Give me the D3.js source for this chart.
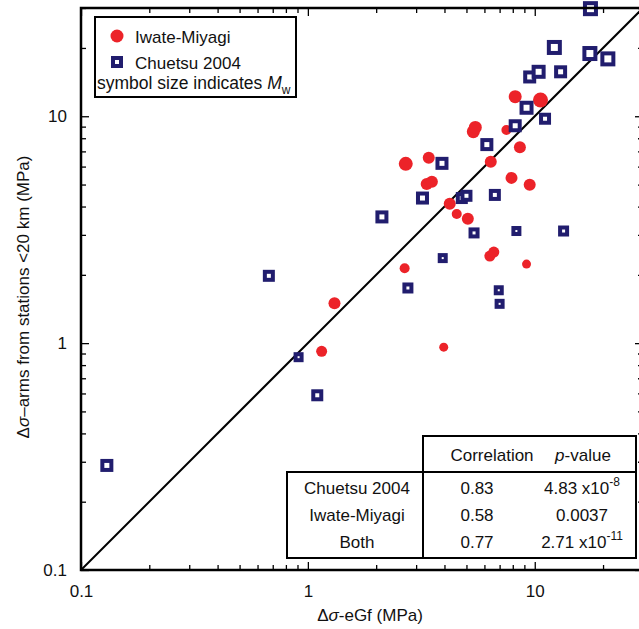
<!DOCTYPE html>
<html>
<head>
<meta charset="utf-8">
<script src="https://cdn.jsdelivr.net/npm/d3@7"></script>
<style>
  html, body { margin: 0; padding: 0; background: #fff; }
  svg text { font-family: "Liberation Sans", Arial, Helvetica, sans-serif; fill: #111; }
</style>
</head>
<body>
<div class="chart"></div>
<script>
// Chuetsu 2004 (squares)
const chuetsuX = [17.6, 12.2, 17.5, 21.0, 9.5, 10.4, 13.0, 9.2, 11.1, 8.2, 6.15, 3.9, 3.2, 4.77, 5.0, 6.67, 2.12, 5.4, 8.3, 13.4, 3.93, 2.76, 6.94, 7.0, 0.673, 0.91, 1.10, 0.130]
const chuetsuY = [29.8, 20.1, 18.9, 17.9, 14.9, 15.7, 15.7, 10.9, 9.75, 9.08, 7.5, 6.2, 4.36, 4.36, 4.46, 4.5, 3.6, 3.06, 3.12, 3.12, 2.37, 1.75, 1.71, 1.49, 1.98, 0.867, 0.589, 0.289]
const chuetsuMw = [6.0, 6.0, 6.0, 6.0, 5.5, 5.75, 5.5, 5.75, 5.25, 5.5, 5.5, 5.5, 5.5, 5.25, 5.25, 5.25, 5.5, 5.0, 4.75, 5.0, 4.75, 5.0, 4.75, 4.75, 5.25, 4.75, 5.25, 5.5]
// Iwate-Miyagi (circles)
const iwateX = [8.2, 10.6, 5.36, 5.47, 7.5, 8.6, 2.7, 3.41, 6.4, 3.34, 3.52, 7.9, 9.5, 4.22, 4.53, 5.07, 6.34, 6.6, 2.67, 9.2, 1.31, 1.15, 3.97]
const iwateY = [12.2, 11.8, 8.55, 8.93, 8.7, 7.3, 6.17, 6.56, 6.3, 5.03, 5.14, 5.35, 4.99, 4.11, 3.71, 3.53, 2.42, 2.52, 2.14, 2.23, 1.5, 0.92, 0.96]
const iwateMw = [5.5, 6.0, 5.5, 5.5, 4.75, 5.25, 5.75, 5.25, 5.25, 5.25, 5.25, 5.25, 5.25, 5.25, 4.75, 5.25, 5.0, 5.0, 4.75, 4.5, 5.25, 5.0, 4.5]

const majorTicks = [0.1, 1, 10]
const minorTicks = [0.2, 0.3, 0.4, 0.5, 0.6, 0.7, 0.8, 0.9, 2, 3, 4, 5, 6, 7, 8, 9, 20, 30]

const tableRows = ["Chuetsu 2004", "Iwate-Miyagi", "Both"]
const correlation = ["0.83", "0.58", "0.77"]
const pMantissa = ["4.83 x10", "0.0037", "2.71 x10"]
const pExponent = ["-8", "", "-11"]

const width = 639, height = 629
const mLeft = 81, mRight = 643, mTop = 8, mBottom = 570
const red = "#ec2329", navy = "#211d6e"

let svg = d3.select(".chart").append("svg")
    .attr("width", width)
    .attr("height", height)

let x = d3.scaleLog().domain([0.1, 30]).range([mLeft, mRight])
let y = d3.scaleLog().domain([0.1, 30]).range([mBottom, mTop])
let size = d3.scaleLinear().domain([4.5, 6]).range([9, 15])

// 1:1 line
svg.append("line")
    .attr("x1", x(0.1)).attr("y1", y(0.1))
    .attr("x2", x(30)).attr("y2", y(30))
    .attr("stroke", "#000")
    .attr("stroke-width", 2)

// circles
let iwate = iwateX.map((d, i) => ({x: d, y: iwateY[i], mw: iwateMw[i]}))
svg.append("g")
    .selectAll("circle")
    .data(iwate)
    .enter()
    .append("circle")
    .attr("cx", d => x(d.x))
    .attr("cy", d => y(d.y))
    .attr("r", d => size(d.mw) / 2)
    .attr("fill", red)

// squares
let chuetsu = chuetsuX.map((d, i) => ({x: d, y: chuetsuY[i], mw: chuetsuMw[i]}))
let sw = 4
svg.append("g")
    .selectAll("rect")
    .data(chuetsu)
    .enter()
    .append("rect")
    .attr("x", d => x(d.x) - size(d.mw) / 2 + sw / 2)
    .attr("y", d => y(d.y) - size(d.mw) / 2 + sw / 2)
    .attr("width", d => size(d.mw) - sw)
    .attr("height", d => size(d.mw) - sw)
    .attr("fill", "#fff")
    .attr("stroke", navy)
    .attr("stroke-width", sw)

// axes: major and minor ticks pointing inward
function drawAxis(axis, tx, ty, labels) {
    let g = svg.append("g").attr("transform", `translate(${tx},${ty})`).call(axis)
    g.select(".domain").remove()
    g.selectAll("line").attr("stroke", "#000").attr("stroke-width", 1.3)
    if (!labels) g.selectAll("text").remove()
    else g.selectAll("text").attr("font-size", 17).attr("fill", "#111")
    return g
}
let fmt = d => String(d)
drawAxis(d3.axisBottom(x).tickValues(majorTicks).tickSize(-8).tickPadding(15).tickFormat(fmt), 0, mBottom, true)
drawAxis(d3.axisBottom(x).tickValues(minorTicks).tickSize(-5), 0, mBottom, false)
drawAxis(d3.axisTop(x).tickValues(majorTicks).tickSize(-8), 0, mTop, false)
drawAxis(d3.axisTop(x).tickValues(minorTicks).tickSize(-5), 0, mTop, false)
drawAxis(d3.axisLeft(y).tickValues(majorTicks).tickSize(-8).tickPadding(14).tickFormat(fmt), mLeft, 0, true)
drawAxis(d3.axisLeft(y).tickValues(minorTicks).tickSize(-5), mLeft, 0, false)
drawAxis(d3.axisRight(y).tickValues(majorTicks).tickSize(-8), mRight, 0, false)
drawAxis(d3.axisRight(y).tickValues(minorTicks).tickSize(-5), mRight, 0, false)

// frame
svg.append("rect")
    .attr("x", mLeft).attr("y", mTop)
    .attr("width", mRight - mLeft).attr("height", mBottom - mTop)
    .attr("fill", "none")
    .attr("stroke", "#000")
    .attr("stroke-width", 2.5)

// axis titles
let xt = svg.append("text")
    .attr("x", 370).attr("y", 621)
    .attr("text-anchor", "middle")
    .attr("font-size", 17)
xt.append("tspan").text("Δ")
xt.append("tspan").attr("font-style", "italic").text("σ")
xt.append("tspan").text("-eGf (MPa)")

let yt = svg.append("text")
    .attr("transform", `translate(29,297) rotate(-90)`)
    .attr("text-anchor", "middle")
    .attr("font-size", 17)
yt.append("tspan").text("Δ")
yt.append("tspan").attr("font-style", "italic").text("σ")
yt.append("tspan").text("–arms from stations <20 km (MPa)")

// legend
let lg = svg.append("g")
lg.append("rect")
    .attr("x", 95).attr("y", 17).attr("width", 201).attr("height", 80)
    .attr("fill", "#fff").attr("stroke", "#000").attr("stroke-width", 2)
lg.append("circle").attr("cx", 117).attr("cy", 36).attr("r", 6.5).attr("fill", red)
lg.append("rect").attr("x", 113).attr("y", 58).attr("width", 8).attr("height", 8)
    .attr("fill", "#fff").attr("stroke", navy).attr("stroke-width", 4)
lg.append("text").attr("x", 135).attr("y", 43).attr("font-size", 17).text("Iwate-Miyagi")
lg.append("text").attr("x", 135).attr("y", 68.5).attr("font-size", 17).text("Chuetsu 2004")
let sl = lg.append("text").attr("x", 97).attr("y", 88.5).attr("font-size", 17.5)
sl.append("tspan").text("symbol size indicates ")
sl.append("tspan").attr("font-style", "italic").text("M")
sl.append("tspan").attr("font-size", 12).attr("dy", 5).text("w")

// correlation table
let tb = svg.append("g")
tb.append("rect").attr("x", 423).attr("y", 436).attr("width", 213).attr("height", 122)
    .attr("fill", "#fff").attr("stroke", "#000").attr("stroke-width", 2)
tb.append("rect").attr("x", 287).attr("y", 472).attr("width", 349).attr("height", 86)
    .attr("fill", "#fff").attr("stroke", "#000").attr("stroke-width", 2)
tb.append("line").attr("x1", 423).attr("x2", 423).attr("y1", 472).attr("y2", 558)
    .attr("stroke", "#000").attr("stroke-width", 2)
tb.append("text").attr("x", 492).attr("y", 461).attr("font-size", 17)
    .attr("text-anchor", "middle").text("Correlation")
let ph = tb.append("text").attr("x", 583).attr("y", 461).attr("font-size", 17)
    .attr("text-anchor", "middle")
ph.append("tspan").attr("font-style", "italic").text("p")
ph.append("tspan").text("-value")
let rowY = d3.scalePoint().domain(tableRows).range([494, 548])
tableRows.forEach((r, i) => {
    tb.append("text").attr("x", 357).attr("y", rowY(r)).attr("font-size", 17)
        .attr("text-anchor", "middle").text(r)
    tb.append("text").attr("x", 477).attr("y", rowY(r)).attr("font-size", 17)
        .attr("text-anchor", "middle").text(correlation[i])
    let pt = tb.append("text").attr("x", 582).attr("y", rowY(r)).attr("font-size", 17)
        .attr("text-anchor", "middle")
    pt.append("tspan").text(pMantissa[i])
    if (pExponent[i]) pt.append("tspan").attr("font-size", 12).attr("dy", -8).text(pExponent[i])
})
</script>
</body>
</html>
